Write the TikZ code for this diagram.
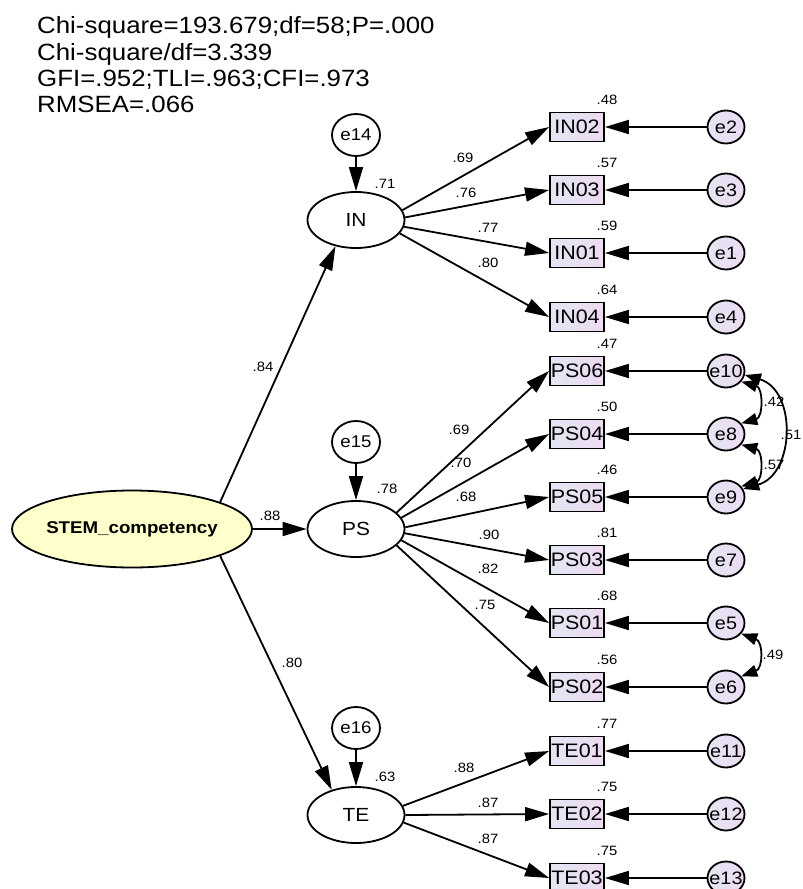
\documentclass[tikz,border=0pt]{standalone}
\usepackage{fontspec}
\setmainfont{Liberation Sans}[FakeStretch=1.1]
\usetikzlibrary{arrows.meta,shapes.geometric}
\definecolor{boxL}{RGB}{226,230,242}
\definecolor{boxR}{RGB}{238,218,242}
\definecolor{stemfill}{RGB}{255,255,204}
\newcommand{\zw}[1]{\makebox[0pt]{#1}}
\tikzset{
 ln/.style={line width=1.8pt},
 arr/.style={ln,-{Triangle[length=24pt,width=14pt]}},
 cov/.style={ln,{Triangle[length=16pt,width=12pt]}-{Triangle[length=16pt,width=12pt]}},
 obsbox/.style={draw,ln,rectangle,minimum width=54pt,minimum height=29pt,inner sep=0pt,left color=boxL,right color=boxR,font=\fontsize{19.5}{20}\selectfont},
 errc/.style={draw,ln,ellipse,minimum width=37pt,minimum height=33pt,inner sep=0pt,left color=boxL,right color=boxR,font=\fontsize{18}{19}\selectfont},
 distc/.style={draw,ln,ellipse,minimum width=48pt,minimum height=42pt,inner sep=0pt,fill=white,font=\fontsize{17}{18}\selectfont},
 latent/.style={draw,ln,ellipse,minimum width=97pt,minimum height=56pt,inner sep=0pt,fill=white,font=\fontsize{19}{20}\selectfont},
 coef/.style={font=\fontsize{13.5}{14}\selectfont,inner sep=0pt},
 stat/.style={anchor=base west,inner sep=0pt,font=\fontsize{23.5}{26}\selectfont},
}
\begin{document}
\begin{tikzpicture}[x=1pt,y=1pt]
\fill[white] (0,0) rectangle (803,-889);
\useasboundingbox (0,0) rectangle (803,-889);

% fit statistics
\node[stat] (s1) at (37,-33) {Chi-square=193.679;df=58;P=.000};
\node[stat] (s2) at (37,-60) {Chi-square/df=3.339};
\node[stat] (s3) at (37,-86) {GFI=.952;TLI=.963;CFI=.973};
\node[stat] (s4) at (37,-112) {RMSEA=.066};

% observed indicators and their errors
\foreach \nm/\yy/\rs/\er in {IN02/127/.48/e2, IN03/190/.57/e3, IN01/253/.59/e1, IN04/317/.64/e4,
  PS06/371/.47/e10, PS04/434/.50/e8, PS05/497/.46/e9, PS03/560/.81/e7, PS01/623/.68/e5, PS02/687/.56/e6,
  TE01/751/.77/e11, TE02/814/.75/e12, TE03/878/.75/e13} {
  \node[obsbox] (\nm) at (577,-\yy) {\zw{\nm}};
  \node[errc] (\er) at (726,-\yy) {\zw{\er}};
  \node[coef] (r\nm) at (607,-\yy+27) {\rs};
  \draw[arr] (\er) -- (\nm);
}

% latent factors
\node[latent] (IN) at (356,-220) {\zw{IN}};
\node[latent] (PS) at (356,-529) {\zw{PS}};
\node[latent] (TE) at (356,-815) {\zw{TE}};
\node[distc] (e14) at (356,-135) {\zw{e14}};
\node[distc] (e15) at (356,-442) {\zw{e15}};
\node[distc] (e16) at (356,-728) {\zw{e16}};
\draw[arr] (e14) -- (IN);
\draw[arr] (e15) -- (PS);
\draw[arr] (e16) -- (TE);
\node[coef] (rIN) at (385,-184) {.71};
\node[coef] (rPS) at (387,-489) {.78};
\node[coef] (rTE) at (385,-777) {.63};

\node[latent,fill=stemfill,minimum width=240pt,minimum height=77pt,font=\fontsize{17}{18}\selectfont\bfseries] (stem) at (132,-529) {\zw{STEM\_competency}};
\draw[arr] (stem.17) -- (IN.232);
\draw[arr] (stem) -- (PS);
\draw[arr] (stem.-17) -- (TE.134);
\node[coef] (l1) at (263,-367) {.84};
\node[coef] (l2) at (270,-516) {.88};
\node[coef] (l3) at (292,-663) {.80};

% loadings
\foreach \lt/\nm/\aa/\lx/\ly/\vv in {IN/IN02/12/463/158/.69, IN/IN03/3.5/466/193/.76, IN/IN01/-8/488/228/.77, IN/IN04/-17/488/263/.80,
  PS/PS06/22/459/430/.69, PS/PS04/14/461/463/.70, PS/PS05/2/466/497/.68, PS/PS03/-5/489/535/.90, PS/PS01/-14/488/569/.82, PS/PS02/-22/485/605/.75,
  TE/TE01/11/464/768/.88, TE/TE02/0/488/803/.87, TE/TE03/-9/488/839/.87} {
  \draw[arr] (\lt.\aa) -- (\nm.west);
  \node[coef] at (\lx,-\ly) {\vv};
}

% covariances
\draw[cov] (e10.-35) .. controls +(22,-6) and +(22,6) .. (e8.35);
\draw[cov] (e8.-35) .. controls +(22,-6) and +(22,6) .. (e9.35);
\draw[cov] (e10.-12) .. controls +(52,-15) and +(52,15) .. (e9.25);
\draw[cov] (e5.-35) .. controls +(22,-8) and +(22,8) .. (e6.35);
\node[coef] (c1) at (774,-402) {.42};
\node[coef] (c2) at (774,-465) {.57};
\node[coef] (c3) at (791,-435) {.51};
\node[coef] (c4) at (773,-655) {.49};
\end{tikzpicture}
\end{document}
